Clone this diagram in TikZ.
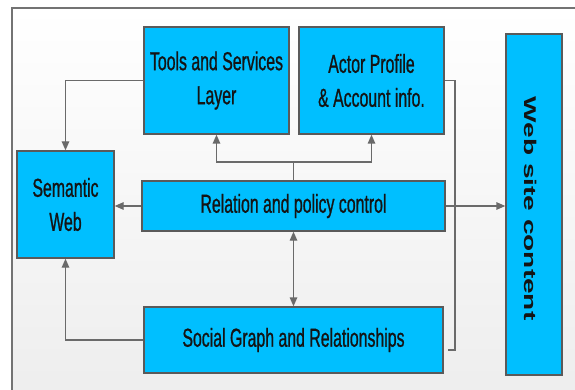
\documentclass[tikz,border=0pt]{standalone}
\usepackage{fontspec}
\setmainfont{Liberation Sans}
\newfontfamily\narrowfont[FakeStretch=0.61,FakeBold=0.8]{Liberation Sans}
\newfontfamily\widefont[FakeStretch=1.65]{Liberation Sans}
\usetikzlibrary{arrows.meta}
\definecolor{boxfill}{HTML}{00BFFF}
\definecolor{boxline}{HTML}{5A5A5A}
\definecolor{conn}{HTML}{6A6A6A}
\definecolor{txt}{HTML}{141414}
\tikzset{
  blk/.style={draw=boxline, line width=1.4pt, fill=boxfill, text=txt,
    inner sep=0pt, align=center,
    font=\narrowfont\fontsize{26}{34}\selectfont},
  link/.style={draw=conn, line width=1.4pt},
  arr/.style={link, -{Triangle[length=9pt,width=7.5pt]}},
  darr/.style={link, {Triangle[length=9pt,width=7.5pt]}-{Triangle[length=9pt,width=7.5pt]}}
}
\begin{document}
\begin{tikzpicture}[x=1pt,y=-1pt]
\useasboundingbox (0,0) rectangle (575,390);
\clip (0,0) rectangle (575,390);
\fill[white] (0,0) rectangle (575,390);
\fill[top color=white, bottom color=black!7] (12,8) rectangle (590,400);
\draw[black!55, line width=1.5pt] (12,8) rectangle (590,400);

\node[blk, minimum width=145pt, minimum height=107pt] (tools) at (216.5,80.5) {Tools and Services\\Layer};
\node[blk, minimum width=145pt, minimum height=107pt] (actor) at (371.5,80.5) {Actor Profile\\\& Account info.};
\node[blk, minimum width=97pt, minimum height=107pt] (sem) at (65.5,204.5) {Semantic\\Web};
\node[blk, minimum width=303pt, minimum height=50pt] (rel) at (293.5,206) {Relation and policy control};
\node[blk, minimum width=299pt, minimum height=66pt] (soc) at (293.5,340) {Social Graph and Relationships};
\node[blk, minimum width=56pt, minimum height=341pt] (web) at (534,204.5) {};
\node[text=txt, rotate=-90, inner sep=0pt, font=\widefont\bfseries\fontsize{17}{20}\selectfont] (webtxt) at (531,208.5) {Web site content};

\coordinate (j) at (293.5,162);
\draw[link] (rel.north) -- (j);
\draw[arr] (j) -| (tools.south);
\draw[arr] (j) -| (actor.south);
\draw[arr] (tools.west) -| (sem.north);
\draw[arr] (rel.west) -- (sem.east |- rel.west);
\draw[arr] (rel.east) -- (web.west |- rel.east);
\draw[darr] (rel.south) -- (soc.north);
\draw[arr] (soc.west) -| (sem.south);
\coordinate (bk) at (455,350);
\coordinate (be) at (448,350);
\draw[link] (actor.east) -| (bk) -- (be);
\end{tikzpicture}
\end{document}
